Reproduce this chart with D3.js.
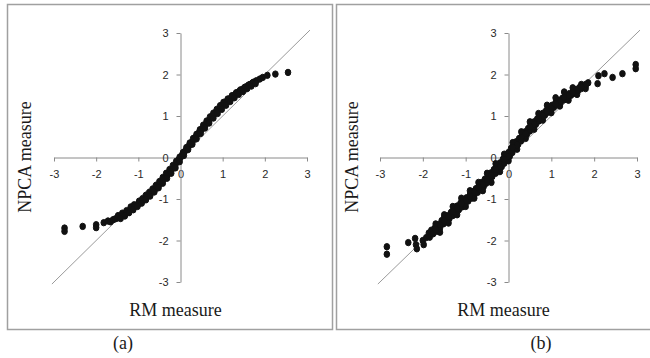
<!DOCTYPE html>
<html>
<head>
	<meta charset="utf-8">
	<script src="https://d3js.org/d3.v7.min.js"></script>
	<style>
	body{
		margin: 0;
		background: #fff;
	}
	.tick text{
		font-family: "Liberation Sans", Arial, sans-serif;
		font-size: 11px;
		fill: #2a2a2a;
	}
	.title{
		font-family: "Liberation Serif", "Times New Roman", serif;
		font-size: 18px;
		fill: #1a1a1a;
	}
	</style>
</head>
<body>
<svg id="chart" width="650" height="358"></svg>
<script>

	// tick values shared by both axes of both panels
	var ticks = [-3, -2, -1, 0, 1, 2, 3];
	var panelLabels = ["(a)", "(b)"];
	var xTitle = "RM measure";
	var yTitle = "NPCA measure";

	// reference line y = x
	var refLine = [-3.05, 3.07];

	// panel (a): [RM, NPCA]
	var pointsA = [
		[-2.75,-1.70],[-2.75,-1.78],[-2.32,-1.66],[-2.0,-1.62],[-2.0,-1.69],[-1.82,-1.57],[-1.72,-1.53],[-1.66,-1.55],
		[-1.6,-1.50],[-1.55,-1.48],[-1.5,-1.46],[-1.45,-1.44],[-1.4,-1.40],[-1.35,-1.38],[-1.3,-1.35],[-1.25,-1.30],
		[-1.2,-1.27],[-1.17,-1.24],[-1.12,-1.22],[-1.08,-1.17],[-1.04,-1.15],[-1.0,-1.12],[-0.96,-1.08],[-0.92,-1.06],
		[-0.88,-1.02],[-0.84,-0.99],[-0.8,-0.95],[-0.76,-0.92],[-0.72,-0.88],[-0.68,-0.84],[-0.64,-0.80],[-0.6,-0.76],
		[-0.56,-0.71],[-0.52,-0.67],[-0.48,-0.62],[-0.44,-0.57],[-0.4,-0.52],[-0.36,-0.48],[-0.32,-0.43],[-0.28,-0.38],
		[-0.24,-0.33],[-0.2,-0.28],[-0.16,-0.22],[-0.12,-0.17],[-0.08,-0.11],[-0.04,-0.05],[0,0.0],[0.04,0.06],
		[0.08,0.11],[0.12,0.17],[0.16,0.22],[0.2,0.28],[0.24,0.33],[0.28,0.38],[0.32,0.44],[0.36,0.49],
		[0.4,0.55],[0.44,0.60],[0.48,0.65],[0.52,0.70],[0.56,0.75],[0.6,0.80],[0.64,0.85],[0.68,0.90],
		[0.72,0.95],[0.76,1.00],[0.8,1.05],[0.84,1.09],[0.88,1.13],[0.92,1.18],[0.96,1.23],[1.0,1.27],
		[1.05,1.31],[1.1,1.36],[1.15,1.40],[1.2,1.44],[1.25,1.48],[1.3,1.52],[1.35,1.56],[1.4,1.60],
		[1.45,1.63],[1.5,1.66],[1.55,1.70],[1.6,1.73],[1.65,1.76],[1.7,1.79],[1.75,1.82],[1.8,1.85],
		[1.88,1.89],[1.95,1.93],[2.06,1.98],[2.25,2.01],[2.55,2.05],
		[-1.48,-1.40],[-1.38,-1.34],[-1.28,-1.28],[-1.18,-1.19],[-1.1,-1.14],[-0.98,-1.05],[-0.9,-0.99],[-0.82,-0.91],
		[-0.74,-0.84],[-0.66,-0.76],[-0.58,-0.67],[-0.5,-0.58],[-0.42,-0.48],[-0.34,-0.38],[-0.26,-0.29],[-0.18,-0.19],
		[-0.1,-0.09],[-0.02,0.01],[0.06,0.12],[0.14,0.24],[0.22,0.35],[0.3,0.46],[0.38,0.56],[0.46,0.67],
		[0.54,0.78],[0.62,0.88],[0.7,0.98],[0.78,1.07],[0.86,1.16],[0.94,1.25],[1.02,1.33],[1.12,1.41],
		[1.22,1.49],[1.32,1.56],[1.42,1.63],[1.52,1.69],[1.62,1.75],[1.72,1.81],
		[-1.42,-1.47],[-1.32,-1.41],[-1.22,-1.33],[-1.12,-1.26],[-1.02,-1.18],[-0.92,-1.10],[-0.82,-1.02],[-0.72,-0.93],
		[-0.62,-0.83],[-0.52,-0.73],[-0.42,-0.62],[-0.32,-0.50],[-0.22,-0.38],[-0.12,-0.25],[-0.02,-0.10],[0.08,0.05],
		[0.18,0.19],[0.28,0.32],[0.38,0.45],[0.48,0.58],[0.58,0.71],[0.68,0.83],[0.78,0.95],[0.88,1.06],
		[0.98,1.16],[1.08,1.26],[1.18,1.35],[1.28,1.44],[1.38,1.52],[1.48,1.59],[1.58,1.66],[1.68,1.72],[1.78,1.78]
	];

	// panel (b): [RM, NPCA]
	var pointsB = [
		[-2.84,-2.15],[-2.84,-2.33],[-2.34,-2.05],[-2.18,-1.95],[-2.16,-2.10],[-2.14,-2.20],[-2.0,-2.0],[-1.98,-2.10],[-1.92,-1.93],
		[-1.86,-1.82],[-1.84,-1.92],[-1.8,-1.75],[-1.76,-1.84],[-1.72,-1.70],[-1.68,-1.78],[-1.64,-1.62],[-1.6,-1.70],
		[-1.56,-1.52],[-1.52,-1.60],[-1.5,-1.45],[-1.46,-1.54],[-1.42,-1.40],[-1.38,-1.47],[-1.34,-1.32],[-1.3,-1.40],
		[-1.27,-1.24],[-1.24,-1.33],[-1.2,-1.17],[-1.16,-1.26],[-1.12,-1.10],[-1.08,-1.19],[-1.05,-1.02],[-1.02,-1.12],
		[-0.98,-0.97],[-0.94,-1.05],[-0.9,-0.90],[-0.86,-0.98],[-0.83,-0.82],[-0.8,-0.91],[-0.76,-0.75],[-0.72,-0.84],
		[-0.69,-0.68],[-0.66,-0.77],[-0.62,-0.60],[-0.58,-0.70],[-0.55,-0.52],[-0.52,-0.62],[-0.48,-0.45],[-0.44,-0.54],
		[-0.41,-0.37],[-0.38,-0.46],[-0.34,-0.29],[-0.3,-0.38],[-0.27,-0.21],[-0.24,-0.30],[-0.2,-0.13],[-0.16,-0.22],
		[-0.13,-0.04],[-0.1,-0.14],[-0.06,0.04],[-0.03,-0.06],[0.0,0.12],[0.03,0.03],[0.06,0.22],[0.09,0.12],
		[0.12,0.30],[0.15,0.22],[0.18,0.38],[0.22,0.31],[0.25,0.46],[0.29,0.40],[0.32,0.54],[0.36,0.48],
		[0.39,0.62],[0.43,0.56],[0.46,0.70],[0.5,0.64],[0.53,0.78],[0.57,0.72],[0.6,0.86],[0.64,0.80],
		[0.67,0.93],[0.71,0.88],[0.74,1.00],[0.78,0.95],[0.81,1.07],[0.85,1.02],[0.88,1.13],[0.92,1.09],
		[0.95,1.20],[0.99,1.15],[1.02,1.26],[1.06,1.21],[1.1,1.32],[1.14,1.27],[1.18,1.38],[1.22,1.33],
		[1.26,1.43],[1.3,1.39],[1.34,1.49],[1.38,1.44],[1.42,1.54],[1.46,1.50],[1.5,1.59],[1.54,1.55],
		[1.58,1.64],[1.62,1.60],[1.66,1.69],[1.7,1.66],[1.75,1.73],[1.8,1.72],[1.86,1.80],
		[2.08,1.78],[2.1,1.97],[2.24,2.02],[2.43,1.93],[2.66,2.02],[2.97,2.24],[2.97,2.14],
		[-1.7,-1.60],[-1.5,-1.38],[-1.3,-1.18],[-1.1,-0.98],[-0.9,-0.80],[-0.7,-0.60],[-0.5,-0.38],[-0.3,-0.15],
		[-0.1,0.08],[0.1,0.36],[0.3,0.62],[0.5,0.86],[0.7,1.06],[0.9,1.26],[1.1,1.44],[1.3,1.58],[1.5,1.68],[1.7,1.76],
		[-1.6,-1.80],[-1.4,-1.58],[-1.2,-1.38],[-1.0,-1.18],[-0.8,-0.98],[-0.6,-0.80],[-0.4,-0.60],[-0.2,-0.34],
		[0.0,-0.08],[0.2,0.20],[0.4,0.46],[0.6,0.68],[0.8,0.90],[1.0,1.08],[1.2,1.24],[1.4,1.38],[1.6,1.52],[1.8,1.66],
		[-1.6,-1.62],[-1.4,-1.43],[-1.2,-1.23],[-1.0,-1.04],[-0.8,-0.84],[-0.6,-0.65],[-0.4,-0.44],[-0.2,-0.22],
		[0.0,0.02],[0.2,0.30],[0.4,0.57],[0.6,0.80],[0.8,1.00],[1.0,1.19],[1.2,1.35],[1.4,1.49],[1.6,1.62],[1.8,1.76],
		[-1.7,-1.74],[-1.5,-1.52],[-1.3,-1.31],[-1.1,-1.11],[-0.9,-0.93],[-0.7,-0.73],[-0.5,-0.53],[-0.3,-0.29],
		[-0.1,-0.04],[0.1,0.24],[0.3,0.49],[0.5,0.74],[0.7,0.94],[0.9,1.12],[1.1,1.29],[1.3,1.45],[1.5,1.57],[1.7,1.70]
	];

	var svg = d3.select("#chart");

	// panel frames
	svg.append("rect")
		.attr("x", 7.5).attr("y", 4.5)
		.attr("width", 325).attr("height", 325)
		.attr("fill", "none").attr("stroke", "#a0a0a0").attr("stroke-width", 1.5);
	svg.append("rect")
		.attr("x", 336.5).attr("y", 4.5)
		.attr("width", 320).attr("height", 325)
		.attr("fill", "none").attr("stroke", "#a0a0a0").attr("stroke-width", 1.5);

	drawPanel(pointsA, [54, 307], 25, 123, panelLabels[0]);
	drawPanel(pointsB, [380, 637], 352, 541, panelLabels[1]);

	function drawPanel(points, xRange, yTitleX, labelX, label) {

		var x = d3.scaleLinear().domain([-3, 3]).range(xRange);
		var y = d3.scaleLinear().domain([-3, 3]).range([282, 33]);
		var fmt = function(d){ return String(d); };

		var g = svg.append("g");

		// diagonal
		g.append("line")
			.attr("x1", x(refLine[0])).attr("y1", y(refLine[0]))
			.attr("x2", x(refLine[1])).attr("y2", y(refLine[1]))
			.attr("stroke", "#9a9a9a")
			.attr("stroke-width", 1);

		g.append("g")
			.attr("transform", "translate(0," + y(0) + ")")
			.call(d3.axisBottom(x).tickValues(ticks).tickFormat(fmt).tickSize(4).tickSizeOuter(0).tickPadding(9));
		g.append("g")
			.attr("transform", "translate(" + x(0) + ",0)")
			.call(d3.axisLeft(y).tickValues(ticks).tickFormat(fmt).tickSize(4).tickSizeOuter(0).tickPadding(8));

		g.selectAll(".domain, .tick line").attr("stroke", "#8a8a8a");

		g.selectAll("ellipse.pt")
			.data(points)
			.enter()
			.append("ellipse")
				.attr("class", "pt")
				.attr("cx", function(d){ return x(d[0]); })
				.attr("cy", function(d){ return y(d[1]); })
				.attr("rx", 2.8)
				.attr("ry", 3.2)
				.attr("fill", "#111")
				.attr("stroke", "#111")
				.attr("stroke-width", 1);

		g.append("text")
			.attr("class", "title")
			.attr("x", (xRange[0] + xRange[1]) / 2 - 5)
			.attr("y", 316)
			.attr("text-anchor", "middle")
			.text(xTitle);

		g.append("text")
			.attr("class", "title")
			.attr("transform", "translate(" + (yTitleX + 6) + ",157) rotate(-90)")
			.attr("text-anchor", "middle")
			.text(yTitle);

		svg.append("text")
			.attr("class", "title")
			.attr("x", labelX)
			.attr("y", 349)
			.attr("text-anchor", "middle")
			.text(label);
	}
</script>
</body>
</html>
